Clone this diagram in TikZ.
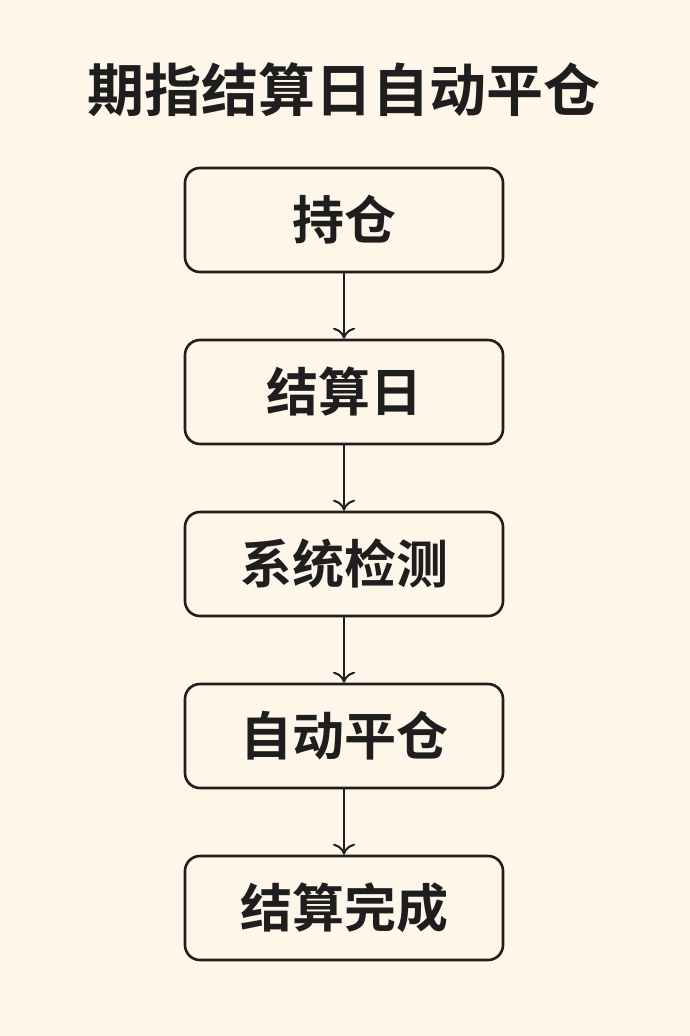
\documentclass[tikz,border=0pt]{standalone}
\usepackage{fontspec}
\newfontfamily\cjk{Noto Sans CJK SC}[BoldFont={Noto Sans CJK SC Bold}]
\usetikzlibrary{arrows.meta}
\definecolor{bg}{HTML}{FDF6E9}
\definecolor{ink}{HTML}{1E1E1E}
\begin{document}
\begin{tikzpicture}[x=1pt,y=-1pt,
  box/.style={draw=ink,line width=2.6pt,rounded corners=15pt,minimum width=318pt,minimum height=104pt,font=\cjk\bfseries\fontsize{52}{56}\selectfont,text=ink},
  arr/.style={draw=ink,line width=2pt,-{To[length=11pt,width=22pt,line width=2pt]}}]
\fill[bg] (0,0) rectangle (690,1036);
\useasboundingbox (0,0) rectangle (690,1036);
\node[font=\cjk\bfseries\fontsize{57}{60}\selectfont,text=ink] (title) at (344,90) {期指结算日自动平仓};
\node[box] (a) at (344,220) {持仓};
\node[box] (b) at (344,392) {结算日};
\node[box] (c) at (344,564) {系统检测};
\node[box] (d) at (344,736) {自动平仓};
\node[box] (e) at (344,908) {结算完成};
\draw[arr] (a) -- (b);
\draw[arr] (b) -- (c);
\draw[arr] (c) -- (d);
\draw[arr] (d) -- (e);
\end{tikzpicture}
\end{document}
